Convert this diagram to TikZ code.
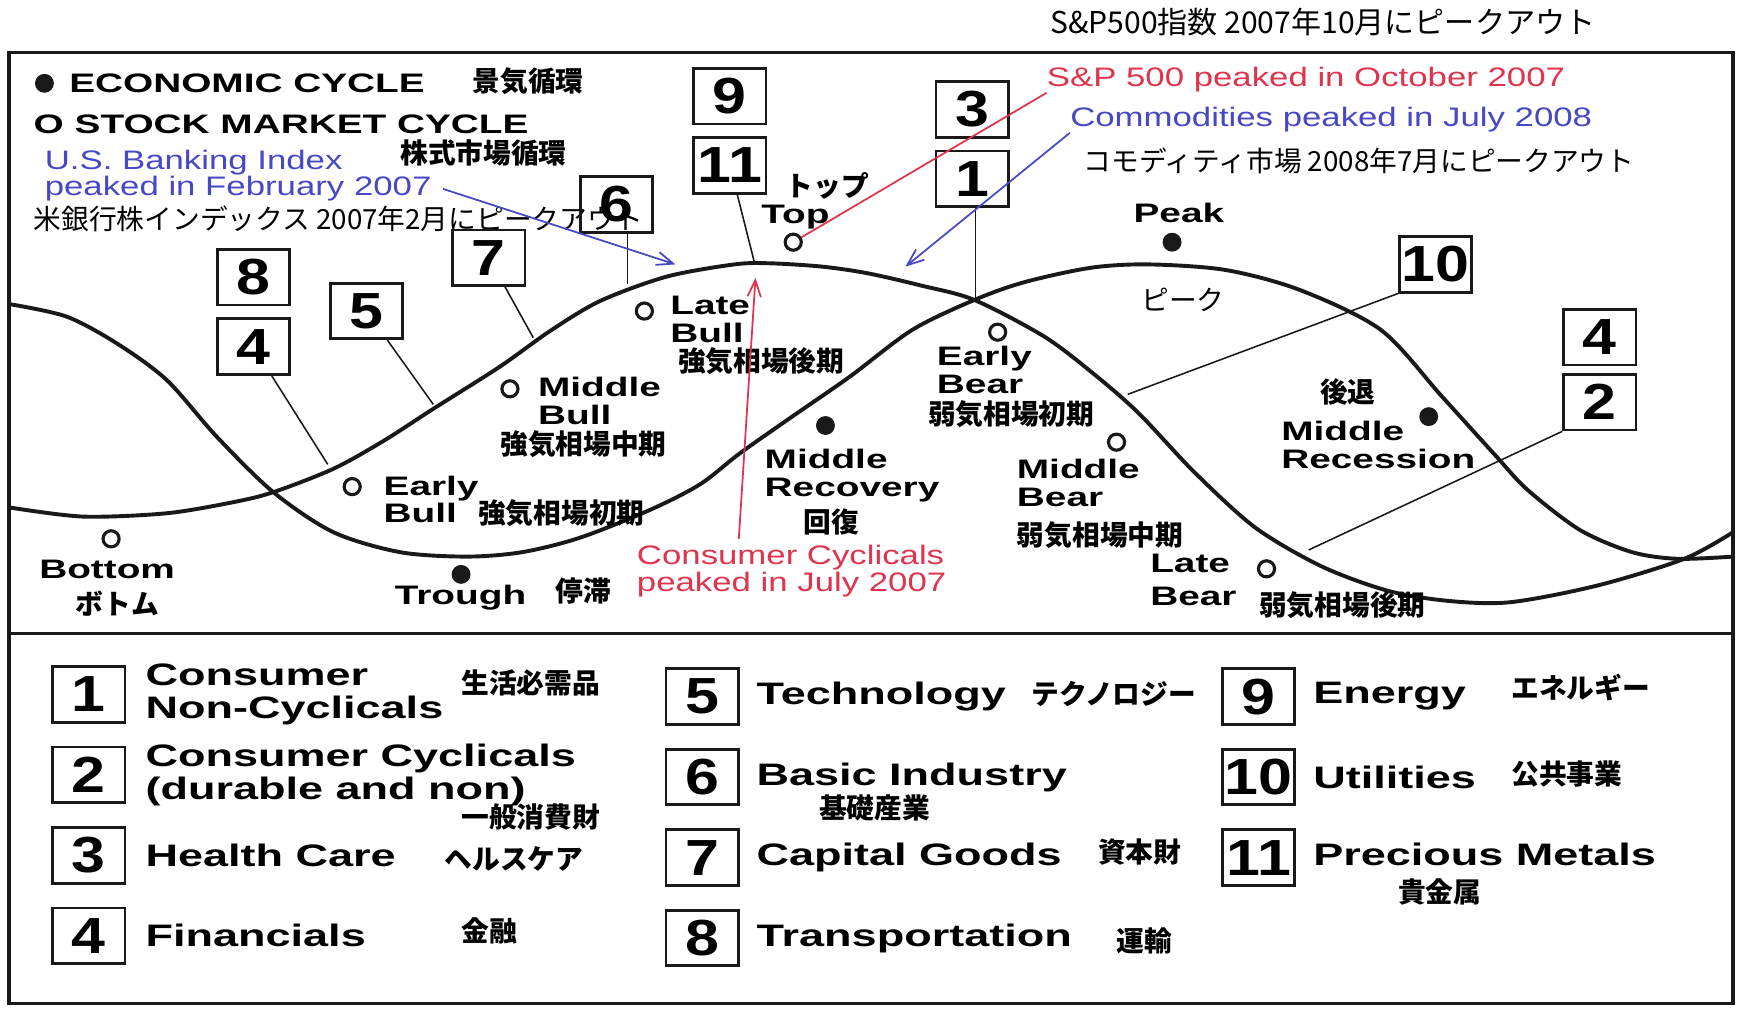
\documentclass[tikz,border=0pt]{standalone}
\usepackage{fontspec}
\usepackage{tikz}
\usetikzlibrary{arrows.meta, positioning}
\setmainfont{Liberation Sans}
\newfontfamily\latfont{Liberation Sans}[FakeStretch=1.45]
\newfontfamily\annfont{Liberation Sans}[FakeStretch=1.3]
\newfontfamily\numfont{Liberation Sans}[FakeStretch=1.2]
\newfontfamily\jpfont{Noto Sans CJK JP}
\definecolor{myred}{RGB}{222,52,78}
\definecolor{myblue}{RGB}{72,72,196}
\definecolor{mydark}{RGB}{25,25,25}
\tikzset{
  numbox/.style={rectangle, draw=mydark, line width=1.4pt,
    minimum width=13mm, minimum height=10mm, inner sep=0pt,
    font=\numfont\bfseries\fontsize{26}{26}\selectfont},
  lbl/.style={inner sep=0pt, anchor=north west, align=left,
    font=\latfont\bfseries\fontsize{13.7}{14.2}\selectfont},
  lblone/.style={inner sep=0pt, anchor=west,
    font=\latfont\bfseries\fontsize{13.7}{14.2}\selectfont},
  keytxt/.style={inner sep=0pt, anchor=west, align=left,
    font=\latfont\bfseries\fontsize{15.9}{16.8}\selectfont},
  jp/.style={inner sep=0pt, anchor=west, font=\jpfont\fontsize{14.2}{15}\selectfont},
  jpb/.style={jp, font=\jpfont\bfseries\fontsize{14.2}{15}\selectfont},
  ann/.style={inner sep=0pt, anchor=west, align=left,
    font=\annfont\fontsize{13.7}{13.7}\selectfont},
  opendot/.style={circle, draw=mydark, line width=1.6pt, minimum size=2.9mm, inner sep=0pt},
  fulldot/.style={circle, fill=mydark, minimum size=3.4mm, inner sep=0pt},
  curve/.style={line width=2pt, color=mydark, line cap=round},
  leader/.style={line width=0.8pt, color=mydark},
  frame/.style={line width=1.7pt, color=mydark},
  bluearrow/.style={-{Straight Barb[length=3mm, width=2.4mm]}, line width=0.9pt, color=myblue},
  redarrow/.style={-{Straight Barb[length=3mm, width=2.4mm]}, line width=0.9pt, color=myred},
  redline/.style={line width=0.9pt, color=myred}
}
\begin{document}
\begin{tikzpicture}[x=0.2mm, y=-0.2mm]
  \useasboundingbox (0,0) rectangle (1568,908);
  \node[jp, font=\jpfont\fontsize{15.4}{16}\selectfont] (sphdr) at (945,20) {S\&P500指数 2007年10月にピークアウト};
  \draw[frame] (8,47) rectangle (1560,903);
  \draw[frame] (8,570) -- (1560,570);

  % legend of the two cycles
  \node[fulldot] (ecodot) at (40,75) {};
  \node[lblone] (ecotxt) at (62,75) {ECONOMIC CYCLE};
  \node[jpb] (ecojp) at (425,73) {景気循環};
  \node[lblone] (stktxt) at (30,112) {O STOCK MARKET CYCLE};
  \node[jpb] (stkjp) at (360,138) {株式市場循環};

  % notes
  \node[ann, text=myblue] (bank) at (40,158) {U.S. Banking Index\\peaked in February 2007};
  \node[jp] (bankjp) at (30,197) {米銀行株インデックス 2007年2月にピークアウト};
  \node[ann, text=myred] (sp) at (942,72) {S\&P 500 peaked in October 2007};
  \node[ann, text=myblue] (cmd) at (963,108) {Commodities peaked in July 2008};
  \node[jp] (cmdjp) at (975,145) {コモディティ市場 2008年7月にピークアウト};
  \node[ann, text=myred] (cyc) at (573,514) {Consumer Cyclicals\\peaked in July 2007};

  % stock market cycle
  \draw[curve] plot[smooth] coordinates {(10,457) (75,465) (150,462) (210,452)
    (246,443) (300,422) (345,397) (390,368) (450,330) (495,298) (540,271)
    (600,249) (661,238) (693,237) (740,240) (781,246) (829,257) (877,270)
    (940,303) (985,337) (1025,372) (1075,425) (1130,475) (1190,510)
    (1250,532) (1305,541) (1360,542) (1438,527) (1516,503) (1560,479)};
  % economic cycle
  \draw[curve] plot[smooth] coordinates {(10,274) (60,285) (105,309) (150,342)
    (195,393) (246,443) (300,479) (360,497) (420,501) (470,497)
    (522,484) (585,459) (630,436) (666,408) (713,375) (765,339) (821,297)
    (877,270) (922,254) (982,241) (1034,238) (1103,243) (1170,261)
    (1243,297) (1298,357) (1347,411) (1375,441) (1422,477) (1469,497)
    (1510,503) (1560,501)};

  % stages
  \node[opendot] (bottom) at (100,485) {};
  \node[lblone] (bottomtxt) at (35,513) {Bottom};
  \node[jpb] (bottomjp) at (68,543) {ボトム};
  \node[opendot] (ebull) at (317,438) {};
  \node[lbl] (ebulltxt) at (345,428) {Early\\Bull};
  \node[jpb] (ebulljp) at (430,462) {強気相場初期};
  \node[opendot] (mbull) at (459,350) {};
  \node[lbl] (mbulltxt) at (484,339) {Middle\\Bull};
  \node[jpb] (mbulljp) at (450,400) {強気相場中期};
  \node[opendot] (lbull) at (580,280) {};
  \node[lbl] (lbulltxt) at (603,266) {Late\\Bull};
  \node[jpb] (lbulljp) at (610,325) {強気相場後期};
  \node[opendot] (top) at (714,218) {};
  \node[lblone] (toptxt) at (685,195) {Top};
  \node[jpb] (topjp) at (707,167) {トップ};
  \node[opendot] (ebear) at (898,299) {};
  \node[lbl] (ebeartxt) at (843,311) {Early\\Bear};
  \node[jpb] (ebearjp) at (835,373) {弱気相場初期};
  \node[opendot] (mbear) at (1005,398) {};
  \node[lbl] (mbeartxt) at (915,413) {Middle\\Bear};
  \node[jpb] (mbearjp) at (915,482) {弱気相場中期};
  \node[opendot] (lbear) at (1140,512) {};
  \node[lblone] (lbeartxt) at (1035,507) {Late};
  \node[lblone] (lbeartxtb) at (1035,537) {Bear};
  \node[jpb] (lbearjp) at (1133,545) {弱気相場後期};
  \node[fulldot] (trough) at (415,517) {};
  \node[lblone] (troughtxt) at (355,538) {Trough};
  \node[jpb] (troughjp) at (500,532) {停滞};
  \node[fulldot] (mrec) at (743,383) {};
  \node[lbl] (mrectxt) at (688,404) {Middle\\Recovery};
  \node[jpb] (mrecjp) at (723,470) {回復};
  \node[fulldot] (peak) at (1055,218) {};
  \node[lblone] (peaktxt) at (1020,192) {Peak};
  \node[jp] (peakjp) at (1027,270) {ピーク};
  \node[fulldot] (mrecs) at (1286,375) {};
  \node[lbl] (mrecstxt) at (1153,379) {Middle\\Recession};
  \node[jpb] (mrecsjp) at (1188,353) {後退};

  % sector boxes on the chart
  \node[numbox] (b11) at (657,149) {11};
  \node[numbox, above=2mm of b11] (b9) {9};
  \node[numbox] (b1) at (875,161) {1};
  \node[numbox, above=2mm of b1] (b3) {3};
  \node[numbox] (b6) at (555,184) {6};
  \node[numbox] (b7) at (440,232) {7};
  \node[numbox] (b4) at (228,312) {4};
  \node[numbox, above=2mm of b4] (b8) {8};
  \node[numbox] (b5) at (330,280) {5};
  \node[numbox] (b10) at (1292,238) {10};
  \node[numbox] (b2) at (1440,362) {2};
  \node[numbox, above=1.2mm of b2] (b4r) {4};

  \coordinate (p4) at (295,418);
  \coordinate (p5) at (390,364);
  \coordinate (p7) at (480,304);
  \coordinate (p6) at (565,256);
  \coordinate (p11) at (679,236);
  \coordinate (p1) at (878,268);
  \coordinate (p10) at (1015,355);
  \coordinate (p2) at (1178,495);
  \draw[leader] (b4) -- (p4);
  \draw[leader] (b5) -- (p5);
  \draw[leader] (b7) -- (p7);
  \draw[leader] (b6.south -| p6) -- (p6);
  \draw[leader] (b11) -- (p11);
  \draw[leader] (b1.south -| p1) -- (p1);
  \draw[leader] (b10.south west) -- (p10);
  \draw[leader] (b2.south west) -- (p2);

  \coordinate (a1) at (608,238);
  \coordinate (a2) at (815,240);
  \coordinate (c0) at (665,485);
  \coordinate (c1) at (680,250);
  \draw[bluearrow] (bank.east) ++(10,12) -- (a1);
  \draw[bluearrow] (cmd.south west) -- (a2);
  \draw[redline] (sp.south west) -- (top);
  \draw[redarrow] (c0) -- (c1);

  % key of sectors
  \node[numbox] (k1) at (80,625) {1};
  \node[numbox, below=4mm of k1] (k2) {2};
  \node[numbox, below=4mm of k2] (k3) {3};
  \node[numbox, below=4mm of k3] (k4) {4};
  \node[numbox] (k5) at (632,627) {5};
  \node[numbox, below=4mm of k5] (k6) {6};
  \node[numbox, below=4mm of k6] (k7) {7};
  \node[numbox, below=4mm of k7] (k8) {8};
  \node[numbox] (k9) at (1133,627) {9};
  \node[numbox, below=4mm of k9] (k10) {10};
  \node[numbox, below=4mm of k10] (k11) {11};

  \node[keytxt, right=3.4mm of k1] (t1) {Consumer\\Non-Cyclicals};
  \node[keytxt, right=3.4mm of k2] (t2) {Consumer Cyclicals\\(durable and non)};
  \node[keytxt, right=3.4mm of k3] (t3) {Health Care};
  \node[keytxt, right=3.4mm of k4] (t4) {Financials};
  \node[keytxt, right=3mm of k5] (t5) {Technology};
  \node[keytxt, right=3mm of k6] (t6) {Basic Industry};
  \node[keytxt, right=3mm of k7] (t7) {Capital Goods};
  \node[keytxt, right=3mm of k8] (t8) {Transportation};
  \node[keytxt, right=3mm of k9] (t9) {Energy};
  \node[keytxt, right=3mm of k10] (t10) {Utilities};
  \node[keytxt, right=3mm of k11, yshift=0.6mm] (t11) {Precious Metals};

  \node[jpb] (j1) at (415,615) {生活必需品};
  \node[jpb] (j2) at (415,735) {一般消費財};
  \node[jpb] (j3) at (400,773) {ヘルスケア};
  \node[jpb] (j4) at (415,838) {金融};
  \node[jpb] (j5) at (928,625) {テクノロジー};
  \node[jpb] (j6) at (737,727) {基礎産業};
  \node[jpb] (j7) at (988,767) {資本財};
  \node[jpb] (j8) at (1005,847) {運輸};
  \node[jpb] (j9) at (1360,619) {エネルギー};
  \node[jpb] (j10) at (1360,697) {公共事業};
  \node[jpb] (j11) at (1258,803) {貴金属};
\end{tikzpicture}
\end{document}
